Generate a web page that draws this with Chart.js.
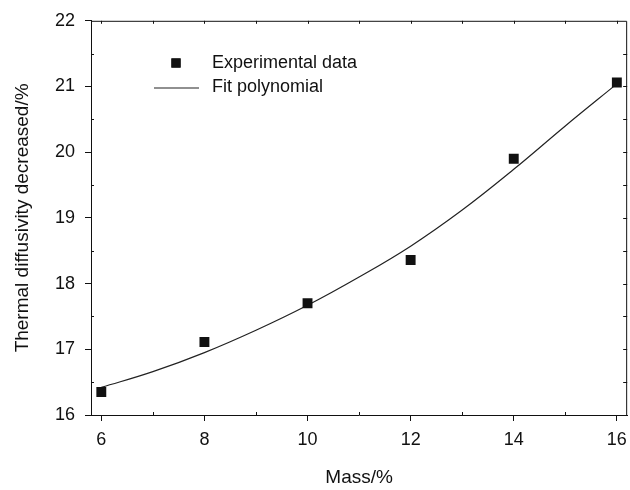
<!DOCTYPE html>
<html lang="en">
<head>
    <meta charset="UTF-8" />
    <title>Thermal diffusivity vs mass</title>
    <script src="https://cdn.jsdelivr.net/npm/chart.js"></script>
    <style>
        body { margin: 0; background: #fff; overflow: hidden; }
        #wrap { width: 630px; height: 490px; overflow: hidden; }
    </style>
</head>
<body>
    <div id="wrap">
        <!-- a few px wider: chart.js keeps point-radius room on the right -->
        <canvas id="diffChart" width="635" height="490"></canvas>
    </div>
    <script>
        // values
        const massValues = [6, 8, 10, 12, 14, 16];
        const diffusivityDecrease = [16.35, 17.11, 17.70, 18.36, 19.90, 21.06];

        // fitted curve, read at each whole percent
        const fitMass = [6, 7, 8, 9, 10, 11, 12, 13, 14, 15, 16];
        const fitValues = [16.42, 16.66, 16.95, 17.29, 17.67, 18.10, 18.57, 19.12, 19.74, 20.40, 21.04];

        const xTickValues = [6, 8, 10, 12, 14, 16];
        const yTickValues = [16, 17, 18, 19, 20, 21, 22];

        const fontFamily = "'Liberation Sans', Arial, sans-serif";

        // small inward ticks + top/right frame, like the original plot box
        const frameTicks = {
            id: 'frameTicks',
            afterDraw(chart) {
                const ctx = chart.ctx;
                const xs = chart.scales.x;
                const ys = chart.scales.y;
                const a = chart.chartArea;
                ctx.save();
                ctx.strokeStyle = '#111';
                ctx.lineWidth = 1;
                ctx.beginPath();
                ctx.moveTo(a.left, a.top + 0.5);
                ctx.lineTo(a.right - 0.5, a.top + 0.5);
                ctx.lineTo(a.right - 0.5, a.bottom);
                for (let v = 6; v <= 16; v++) {
                    const px = Math.round(xs.getPixelForValue(v)) + 0.5;
                    ctx.moveTo(px, a.top);
                    ctx.lineTo(px, a.top + 3);
                    if (v % 2 === 1) {
                        ctx.moveTo(px, a.bottom);
                        ctx.lineTo(px, a.bottom - 3);
                    }
                }
                for (let v = 16.5; v < 22; v += 0.5) {
                    const py = Math.round(ys.getPixelForValue(v)) + 0.5;
                    ctx.moveTo(a.right, py);
                    ctx.lineTo(a.right - 4, py);
                    if (v % 1 !== 0) {
                        ctx.moveTo(a.left, py);
                        ctx.lineTo(a.left + 3, py);
                    }
                }
                ctx.stroke();

                // legend
                const ds = chart.data.datasets;
                ctx.font = '18px ' + fontFamily;
                ctx.fillStyle = '#111';
                ctx.textBaseline = 'middle';
                ctx.fillText(ds[0].label, 212, 63);
                ctx.fillText(ds[1].label, 212, 87);
                Chart.helpers.drawPoint(ctx, {
                    pointStyle: 'rect', radius: 6.5, rotation: 0, borderWidth: 0
                }, 176, 63);
                ctx.fill();
                ctx.beginPath();
                ctx.lineWidth = ds[1].borderWidth;
                ctx.strokeStyle = ds[1].borderColor;
                ctx.moveTo(154, 88);
                ctx.lineTo(199, 88);
                ctx.stroke();
                ctx.restore();
            }
        };

        const ctx = document.getElementById('diffChart').getContext('2d');
        new Chart(ctx, {
            type: 'scatter',
            data: {
                datasets: [{
                    label: 'Experimental data',
                    data: massValues.map((m, i) => ({ x: m, y: diffusivityDecrease[i] })),
                    pointStyle: 'rect',
                    pointRadius: 7,
                    pointBackgroundColor: '#111',
                    pointBorderWidth: 0,
                    showLine: false
                }, {
                    label: 'Fit polynomial',
                    data: fitMass.map((m, i) => ({ x: m, y: fitValues[i] })),
                    showLine: true,
                    pointRadius: 0,
                    borderColor: '#222',
                    borderWidth: 1.2,
                    tension: 0.4
                }]
            },
            options: {
                responsive: false,
                animation: false,
                layout: { padding: { top: 19, right: 0, left: 0, bottom: 0 } },
                plugins: {
                    legend: { display: false },
                    tooltip: { enabled: false }
                },
                scales: {
                    x: {
                        type: 'linear',
                        min: 5.8,
                        max: 16.2,
                        afterBuildTicks: s => { s.ticks = xTickValues.map(v => ({ value: v })); },
                        afterFit: s => { s.height = 75; },
                        grid: { drawOnChartArea: false, drawTicks: true, tickLength: 6, color: '#111' },
                        border: { display: true, color: '#111', width: 1 },
                        ticks: { color: '#111', padding: 8, maxRotation: 0, font: { family: fontFamily, size: 18 } },
                        title: {
                            display: true, text: 'Mass/%', color: '#111',
                            font: { family: fontFamily, size: 19 }, padding: { top: 0, bottom: 1 }
                        }
                    },
                    y: {
                        min: 16,
                        max: 22,
                        afterBuildTicks: s => { s.ticks = yTickValues.map(v => ({ value: v })); },
                        afterFit: s => { s.width = 91; },
                        grid: { drawOnChartArea: false, drawTicks: true, tickLength: 6, color: '#111' },
                        border: { display: true, color: '#111', width: 1 },
                        ticks: { color: '#111', padding: 10, font: { family: fontFamily, size: 18 } },
                        title: {
                            display: true, text: 'Thermal diffusivity decreased/%', color: '#111',
                            font: { family: fontFamily, size: 19 }, padding: { top: 11, bottom: 0 }
                        }
                    }
                }
            },
            plugins: [frameTicks]
        });
    </script>
</body>
</html>
